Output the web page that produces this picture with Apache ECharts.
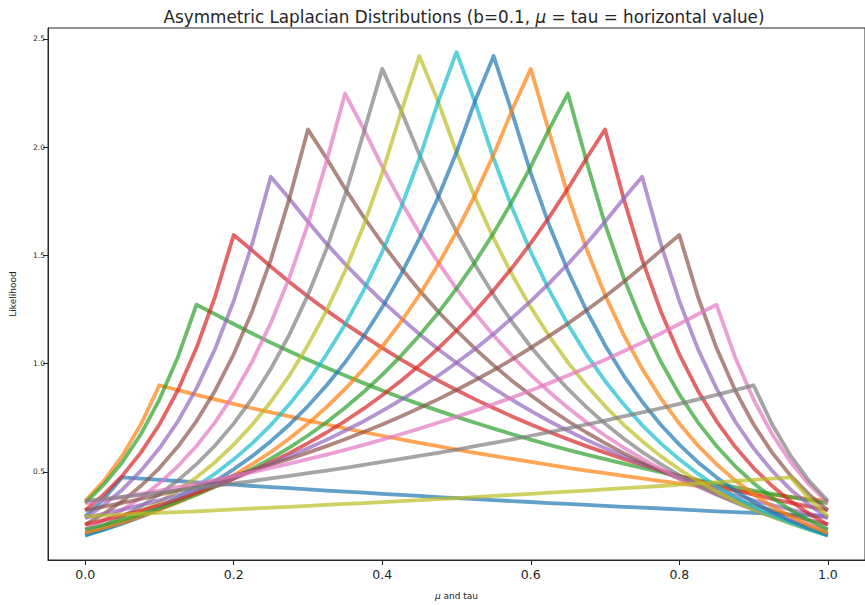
<!DOCTYPE html>
<html>
<head>
<meta charset="utf-8">
<script src="https://cdn.jsdelivr.net/npm/echarts@6/dist/echarts.min.js"></script>
<style>
html,body{margin:0;padding:0;background:#fff;}
#chart{width:865px;height:605px;}
</style>
</head>
<body>
<div id="chart"></div>
<script>
// x sample positions (mu and tau axis)
const xs = [0, 0.025, 0.05, 0.075, 0.1, 0.125, 0.15, 0.175, 0.2, 0.225, 0.25, 0.275, 0.3, 0.325, 0.35, 0.375, 0.4, 0.425, 0.45, 0.475, 0.5, 0.525, 0.55, 0.575, 0.6, 0.625, 0.65, 0.675, 0.7, 0.725, 0.75, 0.775, 0.8, 0.825, 0.85, 0.875, 0.9, 0.925, 0.95, 0.975, 1];

const taus = ['0.05','0.10','0.15','0.20','0.25','0.30','0.35','0.40','0.45','0.50','0.55','0.60','0.65','0.70','0.75','0.80','0.85','0.90','0.95'];

const y005 = [0.295, 0.375, 0.475, 0.469, 0.463, 0.458, 0.452, 0.446, 0.441, 0.435, 0.430, 0.425, 0.419, 0.414, 0.409, 0.404, 0.399, 0.394, 0.389, 0.384, 0.379, 0.375, 0.370, 0.365, 0.361, 0.356, 0.352, 0.348, 0.343, 0.339, 0.335, 0.331, 0.327, 0.322, 0.318, 0.314, 0.311, 0.307, 0.303, 0.299, 0.295];
const y010 = [0.366, 0.458, 0.574, 0.719, 0.900, 0.878, 0.856, 0.835, 0.814, 0.794, 0.775, 0.756, 0.737, 0.719, 0.701, 0.684, 0.667, 0.650, 0.634, 0.619, 0.603, 0.588, 0.574, 0.560, 0.546, 0.532, 0.519, 0.506, 0.494, 0.482, 0.470, 0.458, 0.447, 0.436, 0.425, 0.415, 0.404, 0.394, 0.385, 0.375, 0.366];
const y015 = [0.356, 0.441, 0.545, 0.674, 0.834, 1.031, 1.272, 1.228, 1.183, 1.139, 1.097, 1.057, 1.018, 0.981, 0.945, 0.910, 0.876, 0.844, 0.813, 0.783, 0.754, 0.727, 0.700, 0.674, 0.649, 0.625, 0.602, 0.580, 0.559, 0.538, 0.518, 0.499, 0.481, 0.463, 0.446, 0.430, 0.414, 0.399, 0.384, 0.370, 0.356];
const y020 = [0.323, 0.395, 0.482, 0.589, 0.719, 0.878, 1.073, 1.310, 1.594, 1.522, 1.448, 1.377, 1.310, 1.246, 1.185, 1.128, 1.073, 1.020, 0.970, 0.923, 0.878, 0.835, 0.795, 0.756, 0.719, 0.684, 0.651, 0.619, 0.589, 0.560, 0.533, 0.507, 0.482, 0.458, 0.436, 0.415, 0.395, 0.375, 0.357, 0.340, 0.323];
const y025 = [0.288, 0.347, 0.418, 0.505, 0.609, 0.734, 0.886, 1.068, 1.289, 1.554, 1.863, 1.761, 1.655, 1.554, 1.460, 1.372, 1.289, 1.211, 1.137, 1.068, 1.004, 0.943, 0.886, 0.832, 0.782, 0.734, 0.690, 0.648, 0.609, 0.572, 0.537, 0.505, 0.474, 0.445, 0.418, 0.393, 0.369, 0.347, 0.326, 0.306, 0.288];
const y030 = [0.257, 0.306, 0.365, 0.435, 0.518, 0.617, 0.735, 0.875, 1.043, 1.242, 1.480, 1.763, 2.081, 1.948, 1.808, 1.677, 1.556, 1.443, 1.339, 1.242, 1.153, 1.069, 0.992, 0.920, 0.854, 0.792, 0.735, 0.682, 0.633, 0.587, 0.544, 0.505, 0.469, 0.435, 0.403, 0.374, 0.347, 0.322, 0.299, 0.277, 0.257];
const y035 = [0.234, 0.275, 0.324, 0.381, 0.448, 0.527, 0.620, 0.729, 0.858, 1.010, 1.188, 1.397, 1.644, 1.934, 2.247, 2.084, 1.910, 1.750, 1.603, 1.469, 1.346, 1.233, 1.130, 1.035, 0.948, 0.869, 0.796, 0.729, 0.668, 0.612, 0.561, 0.514, 0.471, 0.432, 0.395, 0.362, 0.332, 0.304, 0.279, 0.255, 0.234];
const y040 = [0.218, 0.253, 0.294, 0.341, 0.397, 0.461, 0.536, 0.622, 0.723, 0.840, 0.976, 1.134, 1.317, 1.530, 1.778, 2.066, 2.361, 2.172, 1.965, 1.778, 1.609, 1.456, 1.317, 1.192, 1.078, 0.976, 0.883, 0.799, 0.723, 0.654, 0.592, 0.536, 0.485, 0.438, 0.397, 0.359, 0.325, 0.294, 0.266, 0.241, 0.218];
const y045 = [0.208, 0.239, 0.274, 0.315, 0.361, 0.414, 0.475, 0.545, 0.626, 0.718, 0.824, 0.945, 1.085, 1.245, 1.428, 1.638, 1.880, 2.157, 2.420, 2.212, 1.976, 1.766, 1.578, 1.410, 1.260, 1.126, 1.006, 0.899, 0.804, 0.718, 0.642, 0.573, 0.512, 0.458, 0.409, 0.366, 0.327, 0.292, 0.261, 0.233, 0.208];
const y050 = [0.205, 0.233, 0.264, 0.299, 0.338, 0.383, 0.434, 0.492, 0.558, 0.632, 0.716, 0.812, 0.920, 1.042, 1.181, 1.338, 1.516, 1.718, 1.947, 2.206, 2.438, 2.206, 1.947, 1.718, 1.516, 1.338, 1.181, 1.042, 0.920, 0.812, 0.716, 0.632, 0.558, 0.492, 0.434, 0.383, 0.338, 0.299, 0.264, 0.233, 0.205];
const y055 = [0.208, 0.233, 0.261, 0.292, 0.327, 0.366, 0.409, 0.458, 0.512, 0.573, 0.642, 0.718, 0.804, 0.899, 1.006, 1.126, 1.260, 1.410, 1.578, 1.766, 1.976, 2.212, 2.420, 2.157, 1.880, 1.638, 1.428, 1.245, 1.085, 0.945, 0.824, 0.718, 0.626, 0.545, 0.475, 0.414, 0.361, 0.315, 0.274, 0.239, 0.208];
const y060 = [0.218, 0.241, 0.266, 0.294, 0.325, 0.359, 0.397, 0.438, 0.485, 0.536, 0.592, 0.654, 0.723, 0.799, 0.883, 0.976, 1.078, 1.192, 1.317, 1.456, 1.609, 1.778, 1.965, 2.172, 2.361, 2.066, 1.778, 1.530, 1.317, 1.134, 0.976, 0.840, 0.723, 0.622, 0.536, 0.461, 0.397, 0.341, 0.294, 0.253, 0.218];
const y065 = [0.234, 0.255, 0.279, 0.304, 0.332, 0.362, 0.395, 0.432, 0.471, 0.514, 0.561, 0.612, 0.668, 0.729, 0.796, 0.869, 0.948, 1.035, 1.130, 1.233, 1.346, 1.469, 1.603, 1.750, 1.910, 2.084, 2.247, 1.934, 1.644, 1.397, 1.188, 1.010, 0.858, 0.729, 0.620, 0.527, 0.448, 0.381, 0.324, 0.275, 0.234];
const y070 = [0.257, 0.277, 0.299, 0.322, 0.347, 0.374, 0.403, 0.435, 0.469, 0.505, 0.544, 0.587, 0.633, 0.682, 0.735, 0.792, 0.854, 0.920, 0.992, 1.069, 1.153, 1.242, 1.339, 1.443, 1.556, 1.677, 1.808, 1.948, 2.081, 1.763, 1.480, 1.242, 1.043, 0.875, 0.735, 0.617, 0.518, 0.435, 0.365, 0.306, 0.257];
const y075 = [0.288, 0.306, 0.326, 0.347, 0.369, 0.393, 0.418, 0.445, 0.474, 0.505, 0.537, 0.572, 0.609, 0.648, 0.690, 0.734, 0.782, 0.832, 0.886, 0.943, 1.004, 1.068, 1.137, 1.211, 1.289, 1.372, 1.460, 1.554, 1.655, 1.761, 1.863, 1.554, 1.289, 1.068, 0.886, 0.734, 0.609, 0.505, 0.418, 0.347, 0.288];
const y080 = [0.323, 0.340, 0.357, 0.375, 0.395, 0.415, 0.436, 0.458, 0.482, 0.507, 0.533, 0.560, 0.589, 0.619, 0.651, 0.684, 0.719, 0.756, 0.795, 0.835, 0.878, 0.923, 0.970, 1.020, 1.073, 1.128, 1.185, 1.246, 1.310, 1.377, 1.448, 1.522, 1.594, 1.310, 1.073, 0.878, 0.719, 0.589, 0.482, 0.395, 0.323];
const y085 = [0.356, 0.370, 0.384, 0.399, 0.414, 0.430, 0.446, 0.463, 0.481, 0.499, 0.518, 0.538, 0.559, 0.580, 0.602, 0.625, 0.649, 0.674, 0.700, 0.727, 0.754, 0.783, 0.813, 0.844, 0.876, 0.910, 0.945, 0.981, 1.018, 1.057, 1.097, 1.139, 1.183, 1.228, 1.272, 1.031, 0.834, 0.674, 0.545, 0.441, 0.356];
const y090 = [0.366, 0.375, 0.385, 0.394, 0.404, 0.415, 0.425, 0.436, 0.447, 0.458, 0.470, 0.482, 0.494, 0.506, 0.519, 0.532, 0.546, 0.560, 0.574, 0.588, 0.603, 0.619, 0.634, 0.650, 0.667, 0.684, 0.701, 0.719, 0.737, 0.756, 0.775, 0.794, 0.814, 0.835, 0.856, 0.878, 0.900, 0.719, 0.574, 0.458, 0.366];
const y095 = [0.295, 0.299, 0.303, 0.307, 0.311, 0.314, 0.318, 0.322, 0.327, 0.331, 0.335, 0.339, 0.343, 0.348, 0.352, 0.356, 0.361, 0.365, 0.370, 0.375, 0.379, 0.384, 0.389, 0.394, 0.399, 0.404, 0.409, 0.414, 0.419, 0.425, 0.430, 0.435, 0.441, 0.446, 0.452, 0.458, 0.463, 0.469, 0.475, 0.375, 0.295];

const xTicks = [0, 0.2, 0.4, 0.6, 0.8, 1.0];
const yTicks = [0.5, 1.0, 1.5, 2.0, 2.5];

const curves = [y005, y010, y015, y020, y025, y030, y035, y040, y045, y050, y055, y060, y065, y070, y075, y080, y085, y090, y095];
const palette = ['#1f77b4','#ff7f0e','#2ca02c','#d62728','#9467bd','#8c564b','#e377c2','#7f7f7f','#bcbd22','#17becf'];

const txt = '#262626';
const chart = echarts.init(document.getElementById('chart'), null, {renderer: 'svg'});

const series = curves.map((ys, k) => ({
  name: taus[k],
  type: 'line',
  data: xs.map((x, i) => [x, ys[i]]),
  showSymbol: false,
  symbol: 'none',
  color: palette[k % 10],
  lineStyle: {width: 3.8, opacity: 0.7, join: 'round', cap: 'butt'},
  emphasis: {disabled: true},
  silent: true,
  animation: false
}));

chart.setOption({
  animation: false,
  backgroundColor: '#ffffff',
  title: {
    text: '{n|Asymmetric Laplacian Distributions (b=0.1, }{i|μ}{n| = tau = horizontal value)}',
    left: 459,
    top: 3,
    textAlign: 'center',
    textStyle: {
      fontWeight: 'normal',
      rich: {
        n: {fontFamily: 'DejaVu Sans', fontWeight: 'normal', fontSize: 16.8, color: txt},
        i: {fontFamily: 'DejaVu Sans', fontWeight: 'normal', fontStyle: 'italic', fontSize: 16.8, color: txt}
      }
    }
  },
  grid: {
    left: 45, top: 28, width: 828, height: 539.5,
    show: true, borderColor: txt, borderWidth: 1, backgroundColor: 'transparent',
    containLabel: false
  },
  xAxis: {
    type: 'value',
    min: -0.05, max: 1.05,
    name: '{i|μ} and tau',
    nameLocation: 'middle',
    nameGap: 31,
    nameTextStyle: {
      rich: {
        i: {fontFamily: 'DejaVu Sans', fontStyle: 'italic', fontSize: 9, color: txt}
      },
      fontFamily: 'DejaVu Sans', fontSize: 9, color: txt
    },
    axisLine: {show: true, onZero: false, lineStyle: {color: txt, width: 1}},
    axisTick: {show: true, inside: false, length: 5, customValues: xTicks, lineStyle: {color: txt, width: 1}},
    axisLabel: {customValues: xTicks, formatter: v => v.toFixed(1), fontFamily: 'DejaVu Sans', fontSize: 12.5, color: txt, margin: 8},
    splitLine: {show: false}
  },
  yAxis: {
    type: 'value',
    min: 0.0933, max: 2.5497,
    name: 'Likelihood',
    nameLocation: 'middle',
    nameRotate: 90,
    nameGap: 31,
    nameTextStyle: {fontFamily: 'DejaVu Sans', fontSize: 9, color: txt},
    axisLine: {show: true, onZero: false, lineStyle: {color: txt, width: 1}},
    axisTick: {show: true, inside: false, length: 5, customValues: yTicks, lineStyle: {color: txt, width: 1}},
    axisLabel: {customValues: yTicks, formatter: v => v.toFixed(1), fontFamily: 'DejaVu Sans', fontSize: 7.5, color: txt, margin: 3},
    splitLine: {show: false}
  },
  series: series
});
</script>
</body>
</html>
